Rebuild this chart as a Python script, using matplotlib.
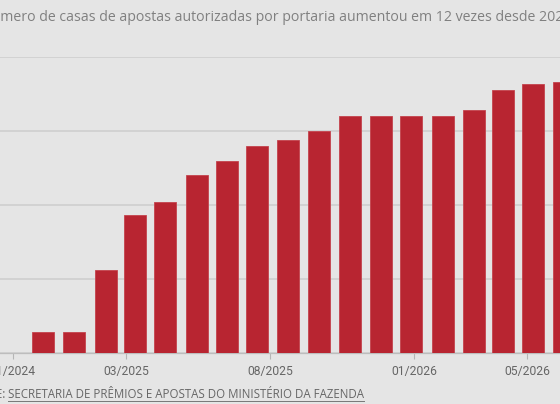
import matplotlib
matplotlib.use("Agg")
import matplotlib.pyplot as plt
import matplotlib.dates as mdates
from matplotlib.lines import Line2D
import pandas as pd

# data (authorized betting houses, by portaria date)
bar_dates = ["2024-12-03", "2025-01-05", "2025-02-08", "2025-03-10",
             "2025-04-11", "2025-05-15", "2025-06-16", "2025-07-18",
             "2025-08-20", "2025-09-22", "2025-10-25", "2025-11-27",
             "2025-12-29", "2026-02-01", "2026-03-06", "2026-04-05",
             "2026-05-07", "2026-06-09"]
casas = [14, 14, 56, 93, 102, 120, 130, 140, 144, 150,
         160, 160, 160, 160, 164, 178, 182, 183]
tick_dates = ["2024-11-01", "2025-03-01", "2025-08-01", "2026-01-01", "2026-05-01"]
tick_labels = ["11/2024", "03/2025", "08/2025", "01/2026", "05/2026"]
grid_vals = [0, 50, 100, 150, 200]

title = "Número de casas de apostas autorizadas por portaria aumentou em 12 vezes desde 2024"
fonte = "SECRETARIA DE PRÊMIOS E APOSTAS DO MINISTÉRIO DA FAZENDA"

BG = "#e5e5e5"
RED = "#b82531"
W, H = 560, 404

plt.rcParams["font.family"] = ["Roboto", "DejaVu Sans"]

fig = plt.figure(figsize=(W / 100, H / 100), dpi=100, facecolor=BG)
ax = fig.add_axes([0, (H - 353) / H, 1, (353 - 57) / H], facecolor=BG)

x = mdates.date2num(pd.to_datetime(bar_dates))
ax.bar(x, casas, width=23.4, color=RED, edgecolor="#c4434d",
       linewidth=0.6, zorder=3)

ax.set_xlim(mdates.date2num(pd.Timestamp("2024-10-18")),
            mdates.date2num(pd.Timestamp("2026-06-05")))
ax.set_ylim(0, 200)

ax.set_yticks(grid_vals)
ax.yaxis.grid(True, color="#cdcdcd", linewidth=1.1, zorder=0)
ax.tick_params(axis="y", length=0, labelleft=False)

ax.set_xticks(mdates.date2num(pd.to_datetime(tick_dates)))
ax.set_xticklabels(tick_labels)
ax.tick_params(axis="x", length=4, width=0.8, color="#b5b5b5",
               labelsize=8.7, labelcolor="#666666", pad=5)

for s in ["top", "right", "left"]:
    ax.spines[s].set_visible(False)
ax.spines["bottom"].set_color("#bdbdbd")
ax.spines["bottom"].set_linewidth(0.9)

# title, cut at the left edge like the reference
tfont = dict(fontsize=10.15, family=["Open Sans", "DejaVu Sans"])
probe = fig.text(0, 0, "Nú", **tfont)
fig.canvas.draw()
w_nu = probe.get_window_extent().width
probe.remove()
fig.text(-w_nu / W, 1 - 21 / H, title, color="#808080",
         ha="left", va="baseline", **tfont)

# source line with underlined name
sfont = dict(fontsize=8.3, family=["Open Sans", "DejaVu Sans"])
fig.text(6 / W, 1 - 398.5 / H, "FONTE:", color="#666666",
         ha="right", va="baseline", **sfont)
src = fig.text(8 / W, 1 - 398.5 / H, fonte, color="#666666",
               ha="left", va="baseline", **sfont)
fig.canvas.draw()
bb = src.get_window_extent()
uy = (H - 400.8) / H
fig.add_artist(Line2D([bb.x0 / W, bb.x1 / W], [uy, uy], color="#777777",
                      linewidth=0.7, transform=fig.transFigure))

fig.savefig("out.png", dpi=100, facecolor=BG)
